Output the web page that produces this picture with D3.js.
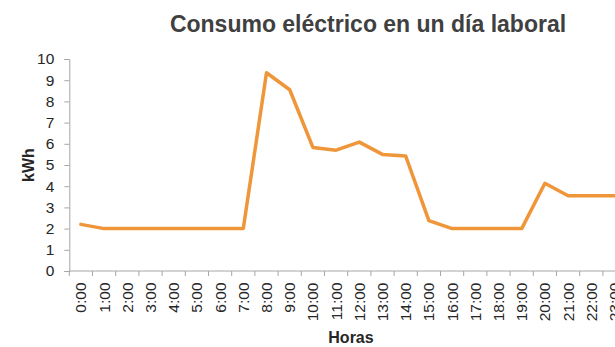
<!DOCTYPE html>
<html>
<head>
<meta charset="utf-8">
<script src="https://cdn.jsdelivr.net/npm/d3@7"></script>
<style>
  html, body { margin: 0; padding: 0; background: #fff; overflow: hidden; }
  svg { display: block; font-family: "Liberation Sans", Arial, sans-serif; }
</style>
</head>
<body>
<svg id="chart" width="615" height="347"></svg>
<script>
// Hourly consumption over a working day
const hours = ["0:00","1:00","2:00","3:00","4:00","5:00","6:00","7:00","8:00","9:00","10:00","11:00",
               "12:00","13:00","14:00","15:00","16:00","17:00","18:00","19:00","20:00","21:00","22:00","23:00"];
const kwh = [2.2, 2.0, 2.0, 2.0, 2.0, 2.0, 2.0, 2.0, 9.35, 8.55, 5.83, 5.7,
             6.08, 5.5, 5.42, 2.38, 2.0, 2.0, 2.0, 2.0, 4.14, 3.55, 3.55, 3.55];
const yTicks = [0, 1, 2, 3, 4, 5, 6, 7, 8, 9, 10];

const svg = d3.select("#chart");
const plotLeft = 69.3, plotTop = 59, plotBottom = 271;
const band = 23.2;

const x = d3.scaleBand().domain(hours).range([plotLeft, plotLeft + band * hours.length]);
const y = d3.scaleLinear().domain([0, 10]).range([plotBottom, plotTop]);

const axisColor = "#a6a6a6";
const textColor = "#262626";

// Y axis
const yAxis = svg.append("g")
  .attr("transform", `translate(${plotLeft},0)`)
  .call(d3.axisLeft(y).tickValues(yTicks).tickSize(5).tickPadding(10).tickFormat(d3.format("d")));
yAxis.select(".domain").attr("stroke", axisColor);
yAxis.selectAll(".tick line").attr("stroke", axisColor);
yAxis.selectAll(".tick text").attr("fill", textColor).style("font-size", "15.5px");

// X axis: ticks on band boundaries, labels at band centres
const xAxis = svg.append("g").attr("transform", `translate(0,${plotBottom})`);
xAxis.append("line")
  .attr("x1", plotLeft).attr("x2", plotLeft + band * hours.length)
  .attr("stroke", axisColor);
xAxis.selectAll("line.tk")
  .data(d3.range(hours.length + 1))
  .join("line")
  .attr("class", "tk")
  .attr("x1", i => plotLeft + i * band).attr("x2", i => plotLeft + i * band)
  .attr("y1", 0).attr("y2", 5)
  .attr("stroke", axisColor);
xAxis.selectAll("text")
  .data(hours)
  .join("text")
  .attr("transform", d => `translate(${x(d) + x.bandwidth() / 2 + 5.5},11.5) rotate(-90)`)
  .attr("text-anchor", "end")
  .attr("fill", textColor)
  .style("font-size", "15.5px")
  .text(d => d);

// Series line
const line = d3.line()
  .x((d, i) => x(hours[i]) + x.bandwidth() / 2)
  .y(d => y(d));
svg.append("path")
  .datum(kwh)
  .attr("fill", "none")
  .attr("stroke", "#f0963a")
  .attr("stroke-width", 3.5)
  .attr("stroke-linejoin", "round")
  .attr("stroke-linecap", "round")
  .attr("d", line);

// Titles
svg.append("text")
  .attr("x", 368).attr("y", 32)
  .attr("text-anchor", "middle")
  .attr("fill", "#404040")
  .style("font-size", "23px").style("font-weight", "bold")
  .text("Consumo eléctrico en un día laboral");

svg.append("text")
  .attr("x", 351).attr("y", 343)
  .attr("text-anchor", "middle")
  .attr("fill", textColor)
  .style("font-size", "16px").style("font-weight", "bold")
  .text("Horas");

svg.append("text")
  .attr("transform", "translate(33.5,165) rotate(-90)")
  .attr("text-anchor", "middle")
  .attr("fill", textColor)
  .style("font-size", "16px").style("font-weight", "bold")
  .text("kWh");
</script>
</body>
</html>
